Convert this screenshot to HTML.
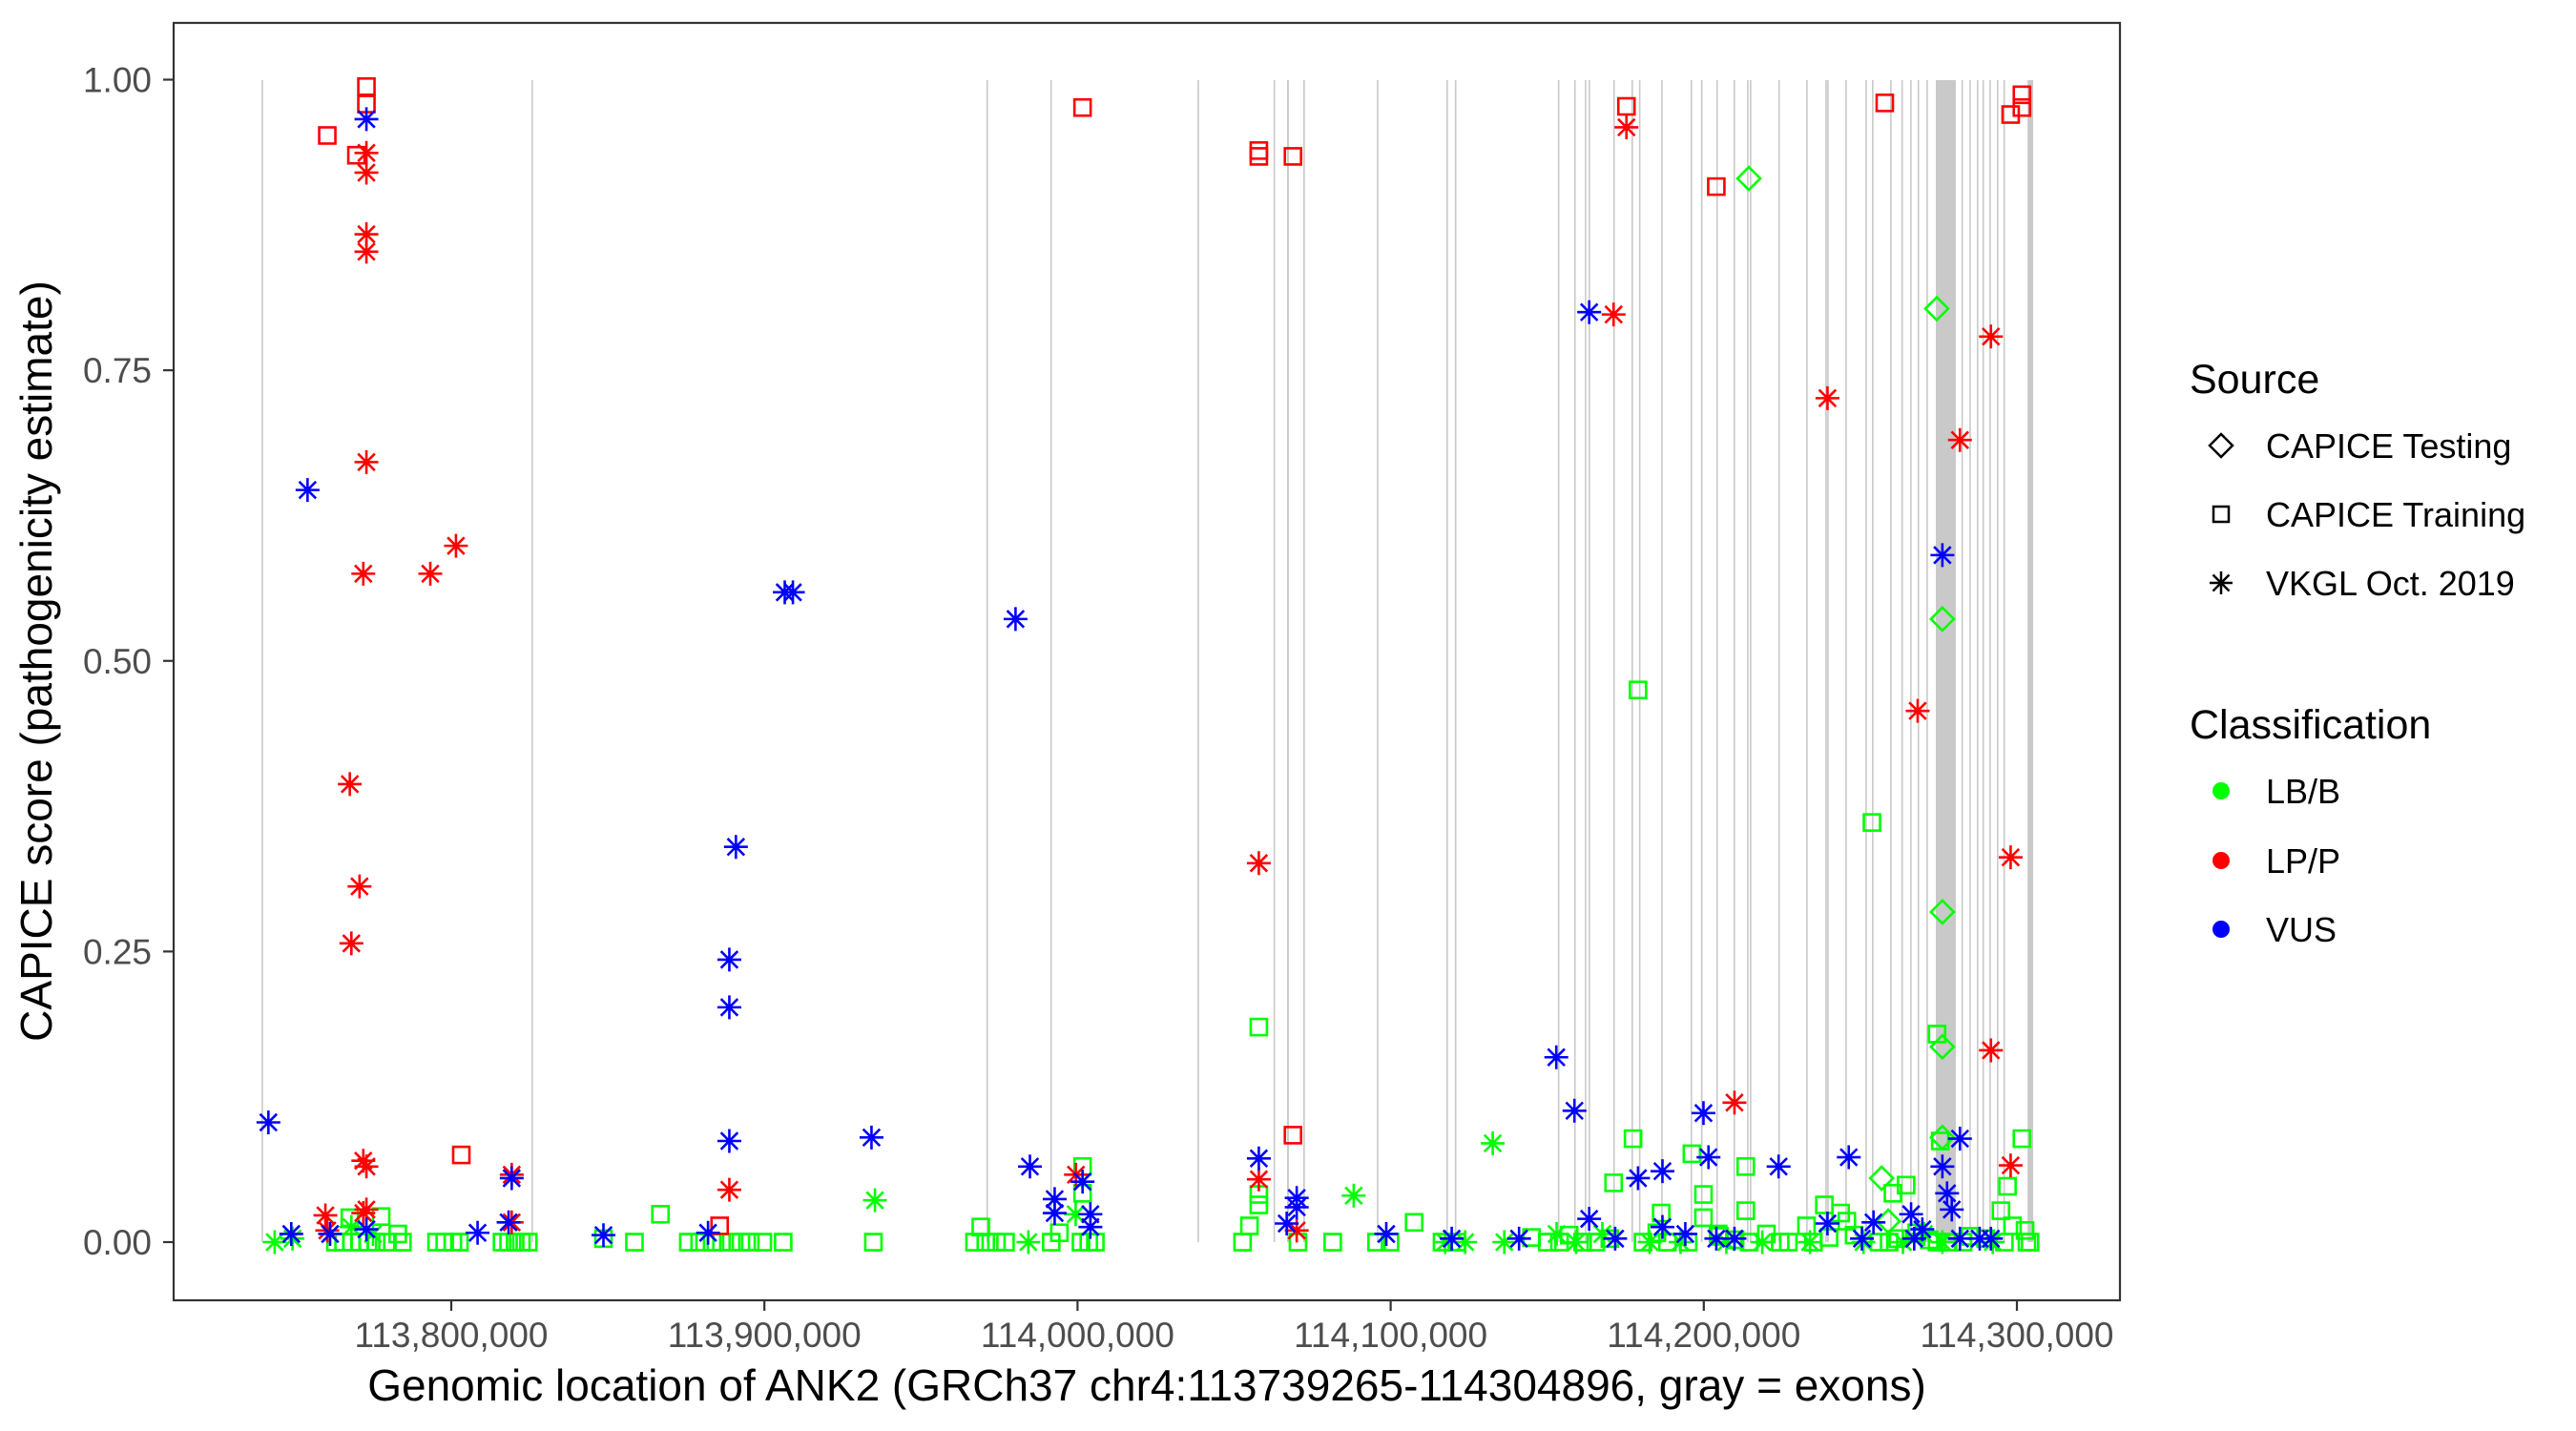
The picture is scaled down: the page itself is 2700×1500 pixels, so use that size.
<!DOCTYPE html>
<html><head><meta charset="utf-8"><style>
html,body{margin:0;padding:0;background:#fff;}
svg{display:block;font-family:"Liberation Sans",Arial,sans-serif;}
</style></head><body>
<svg id="chart" width="2700" height="1500" viewBox="0 0 2700 1500" xmlns="http://www.w3.org/2000/svg">
<rect width="2700" height="1500" fill="#fff"/>
<g id="exons"></g>
<g id="marks"></g>
<rect x="182" y="24" width="2040" height="1339" fill="none" stroke="#333" stroke-width="2.2"/>
<g id="axes"></g>
<text x="1202" y="1468" font-size="46" text-anchor="middle" fill="#000">Genomic location of ANK2 (GRCh37 chr4:113739265-114304896, gray = exons)</text>
<text transform="translate(54,693) rotate(-90)" font-size="46" text-anchor="middle" fill="#000">CAPICE score (pathogenicity estimate)</text>
<g>
<text x="2295" y="412" font-size="43" fill="#000">Source</text>
<path d="M2328 455 L2340 467 L2328 479 L2316 467 Z" fill="none" stroke="#000" stroke-width="2.5"/>
<text x="2375" y="480" font-size="36" fill="#000">CAPICE Testing</text>
<rect x="2320" y="531" width="16" height="16" fill="none" stroke="#000" stroke-width="2.5"/>
<text x="2375" y="552" font-size="36" fill="#000">CAPICE Training</text>
<g stroke="#000" stroke-width="2.5"><line x1="2328" y1="599" x2="2328" y2="623"/><line x1="2316" y1="611" x2="2340" y2="611"/><line x1="2319.5" y1="602.5" x2="2336.5" y2="619.5"/><line x1="2319.5" y1="619.5" x2="2336.5" y2="602.5"/></g>
<text x="2375" y="624" font-size="36" fill="#000">VKGL Oct. 2019</text>
<text x="2295" y="774" font-size="43" fill="#000">Classification</text>
<circle cx="2328" cy="829" r="9" fill="#00ff00"/>
<text x="2375" y="842" font-size="36" fill="#000">LB/B</text>
<circle cx="2328" cy="902" r="9" fill="#ff0000"/>
<text x="2375" y="915" font-size="36" fill="#000">LP/P</text>
<circle cx="2328" cy="974" r="9" fill="#0000ff"/>
<text x="2375" y="987" font-size="36" fill="#000">VUS</text>
</g>
</svg>
<script>
// ---- data (positions in kb on chr4, scores 0..1) ----
const xTicks = [113800, 113900, 114000, 114100, 114200, 114300];
const xTickLabels = ["113,800,000","113,900,000","114,000,000","114,100,000","114,200,000","114,300,000"];
const yTicks = [0, 0.25, 0.5, 0.75, 1.0];
const yTickLabels = ["0.00","0.25","0.50","0.75","1.00"];

const exonStart = [113739.4,113825.6,113970.9,113991.3,114038.3,114062.6,114066.9,114072.1,114095.6,114117.8,114120.5,114153.4,114158.6,114162.0,114163.2,114171.1,114176.9,114179.3,114186.4,114195.8,114199.1,114204.0,114209.5,114213.8,114214.7,114223.8,114232.7,114238.8,114239.4,114245.2,114251.6,114253.7,114259.5,114263.1,114265.9,114268.3,114271.1,114274.1,114282.3,114284.8,114287.2,114289.0,114291.2,114293.6,114295.7,114303.4];
const exonEnd   = [113739.8,113826.0,113971.4,113991.8,114038.8,114063.0,114067.5,114072.6,114096.0,114118.2,114121.0,114153.8,114159.0,114162.4,114163.6,114171.5,114177.4,114179.7,114186.8,114196.2,114199.6,114204.4,114210.0,114214.2,114215.2,114224.2,114233.1,114239.2,114239.9,114245.6,114252.0,114254.2,114259.9,114263.5,114266.3,114268.7,114271.5,114280.5,114282.7,114285.2,114287.6,114289.4,114291.6,114294.0,114296.1,114305.2];

const lbTrainPos = [113763.0,113765.6,113768.1,113770.7,113773.4,113776.0,113779.6,113784.4,113795.3,113797.9,113800.5,113802.6,113816.2,113818.3,113820.4,113822.4,113824.6,113782.9,113767.6,113777.6,113848.6,113858.5,113866.8,113875.7,113879.3,113883.3,113886.3,113889.4,113892.5,113895.5,113899.5,113906.0,113934.8,113967.1,113969.1,113970.7,113974.1,113977.0,113991.6,113994.2,114001.1,114001.6,114001.6,114003.6,114005.7,114052.7,114054.9,114057.9,114057.9,114057.9,114070.4,114081.5,114095.5,114099.8,114107.5,114116.4,114121.1,114153.9,114161.3,114165.5,114171.2,114177.4,114179.0,114180.6,114186.4,114188.4,114196.2,114199.9,114199.9,114204.6,114213.4,114213.4,114214.5,114224.4,114227.0,114232.8,114238.5,114243.7,114245.7,114253.7,114259.2,114260.4,114264.6,114274.5,114275.5,114274.5,114282.8,114294.9,114297.0,114298.6,114301.6,114303.2,114302.6,114304.2,114145,114150,114157,114170,114185,114195,114205,114210,114220,114235,114240,114248,114256,114262,114268,114272,114278,114285,114290,114296];
const lbTrainScore = [0,0,0,0,0,0,0,0,0,0,0,0,0,0,0,0,0,0.007,0.021,0.022,0.003,0,0.024,0,0,0,0,0,0,0,0,0,0,0,0.013,0,0,0,0,0.008,0,0.065,0.042,0,0,0,0.014,0.032,0.185,0.041,0,0,0,0,0.017,0,0,0,0,0,0.051,0.089,0.475,0,0.025,0,0.076,0.041,0.021,0.007,0.065,0.027,0,0,0,0.014,0.032,0.025,0.018,0.361,0,0.042,0.049,0.179,0.087,0,0,0.027,0.048,0.014,0.089,0,0.01,0,0.004,0,0.006,0.003,0.008,0,0.005,0.002,0.007,0,0.004,0.006,0,0.003,0.008,0.002,0,0.005,0.003,0];

const lbVkglPos = [113743.6,113749.3,113775.0,113768.1,113935.3,113984.3,113999.4,114088.2,114132.6,114117.4,114123.8,114136.3,114153.0,114159.2,114167.6,114182.7,114192.6,114207.2,114218.7,114233.9,114251.0,114263.6,114270.3,114276.2,114292.3];
const lbVkglScore = [0,0.003,0.007,0.013,0.036,0,0.024,0.040,0.085,0,0,0,0.007,0,0.007,0,0,0,0,0,0,0,0.007,0,0];

const lbTestPos = [114214.4,114274.4,114276.2,114276.2,114276.2,114276.2,114256.8,114258.9];
const lbTestScore = [0.915,0.803,0.536,0.284,0.168,0.090,0.055,0.018];

const lpTrainPos = [113772.9,113772.9,113760.4,113769.7,113803.2,113885.7,114001.6,114057.9,114057.9,114068.8,114068.8,114175.3,114204.0,114257.8,114298.0,114301.6,114301.6];
const lpTrainScore = [0.994,0.979,0.952,0.935,0.075,0.014,0.976,0.939,0.934,0.934,0.092,0.977,0.908,0.980,0.970,0.987,0.976];

const lpVkglPos = [113772.9,113772.9,113772.9,113772.9,113772.9,113771.9,113793.3,113801.5,113767.6,113770.7,113768.1,113771.9,113772.9,113772.9,113771.9,113759.8,113760.4,113819.3,113819.3,113888.8,113999.5,114057.9,114057.9,114070.0,114171.2,114175.3,114209.8,114239.5,114268.3,114281.8,114291.7,114291.7,114298.0,114298.0];
const lpVkglScore = [0.937,0.920,0.867,0.852,0.671,0.575,0.575,0.599,0.394,0.306,0.257,0.070,0.065,0.028,0.025,0.023,0.010,0.058,0.017,0.045,0.058,0.326,0.054,0.010,0.798,0.959,0.120,0.726,0.457,0.690,0.779,0.165,0.331,0.066];

const vusVkglPos = [113772.9,113754.1,113741.6,113748.9,113761.3,113772.9,113808.4,113818.3,113819.3,113848.6,113882.0,113890.9,113888.8,113888.8,113888.8,113906.5,113909.1,113934.2,113980.2,113984.8,113992.7,113992.7,114001.6,114004.1,114004.1,114057.9,114066.8,114070.0,114070.0,114098.6,114119.5,114141.0,114152.9,114158.7,114163.4,114163.4,114171.7,114179.0,114186.8,114186.8,114194.1,114199.9,114201.5,114204.0,114209.8,114223.9,114239.5,114246.3,114250.5,114254.2,114266.2,114267.2,114276.2,114276.2,114277.7,114279.2,114281.8,114281.8,114288.1,114291.7,114269.8];
const vusVkglScore = [0.966,0.647,0.103,0.007,0.007,0.011,0.008,0.017,0.055,0.006,0.008,0.340,0.243,0.202,0.087,0.559,0.559,0.090,0.536,0.065,0.037,0.025,0.052,0.024,0.013,0.072,0.016,0.030,0.038,0.007,0.003,0.003,0.159,0.113,0.020,0.800,0.003,0.055,0.061,0.013,0.007,0.111,0.073,0.003,0.003,0.065,0.016,0.073,0.003,0.017,0.024,0.003,0.591,0.065,0.042,0.028,0.089,0.003,0.003,0.003,0.011];

// ---- scales ----
const X0 = 473, XK = 3.282; // px at 113800 kb, px per kb
function xScale(kb){ return X0 + (kb - 113800) * XK; }
function yScale(v){ return 1302 - v * 1218.5; }

const NS = "http://www.w3.org/2000/svg";
function mk(tag, attrs, parent){
  const el = document.createElementNS(NS, tag);
  for (const k in attrs) el.setAttribute(k, attrs[k]);
  parent.appendChild(el);
  return el;
}

// exons
const gEx = document.getElementById('exons');
for (let i = 0; i < exonStart.length; i++){
  const x1 = xScale(exonStart[i]), x2 = xScale(exonEnd[i]);
  const w = Math.max(1.6, x2 - x1);
  const r = mk('rect', {x: x1, y: 84, width: w, height: 1218, fill: '#c9c9c9'}, gEx);
  
  
}

// axes
const gAx = document.getElementById('axes');
for (let i = 0; i < xTicks.length; i++){
  const x = xScale(xTicks[i]);
  const t = mk('line', {x1: x, y1: 1363, x2: x, y2: 1374, stroke: '#333', 'stroke-width': 2.2}, gAx);
  
  
  const l = mk('text', {x: x, y: 1412, 'font-size': 37, 'text-anchor': 'middle', fill: '#4d4d4d'}, gAx);
  l.textContent = xTickLabels[i];
  
  
}
for (let i = 0; i < yTicks.length; i++){
  const y = yScale(yTicks[i]);
  const t = mk('line', {x1: 171, y1: y, x2: 182, y2: y, stroke: '#333', 'stroke-width': 2.2}, gAx);
  
  
  const l = mk('text', {x: 159, y: y + 13, 'font-size': 37, 'text-anchor': 'end', fill: '#4d4d4d'}, gAx);
  l.textContent = yTickLabels[i];
  
  
}

// markers
const gM = document.getElementById('marks');
function square(x, y, c){
  const el = mk('rect', {x: x - 8.5, y: y - 8.5, width: 17, height: 17, fill: 'none', stroke: c, 'stroke-width': 2.6}, gM);
  
  
}
function diamond(x, y, c){
  const el = mk('path', {d: `M${x} ${y-12}L${x+12} ${y}L${x} ${y+12}L${x-12} ${y}Z`, fill: 'none', stroke: c, 'stroke-width': 2.6}, gM);
  
  
}
function star(x, y, c){
  const d = `M${x} ${y-12.5}V${y+12.5}M${x-12.5} ${y}H${x+12.5}M${x-8.8} ${y-8.8}L${x+8.8} ${y+8.8}M${x-8.8} ${y+8.8}L${x+8.8} ${y-8.8}`;
  const el = mk('path', {d: d, fill: 'none', stroke: c, 'stroke-width': 2.6}, gM);
  
  
}
const G = '#00ff00', R = '#ff0000', B = '#0000ff';
lbTrainPos.forEach((p, i) => square(xScale(p), yScale(lbTrainScore[i]), G));
lbVkglPos.forEach((p, i) => star(xScale(p), yScale(lbVkglScore[i]), G));
lbTestPos.forEach((p, i) => diamond(xScale(p), yScale(lbTestScore[i]), G));
lpTrainPos.forEach((p, i) => square(xScale(p), yScale(lpTrainScore[i]), R));
lpVkglPos.forEach((p, i) => star(xScale(p), yScale(lpVkglScore[i]), R));
vusVkglPos.forEach((p, i) => star(xScale(p), yScale(vusVkglScore[i]), B));
</script>
</body></html>
